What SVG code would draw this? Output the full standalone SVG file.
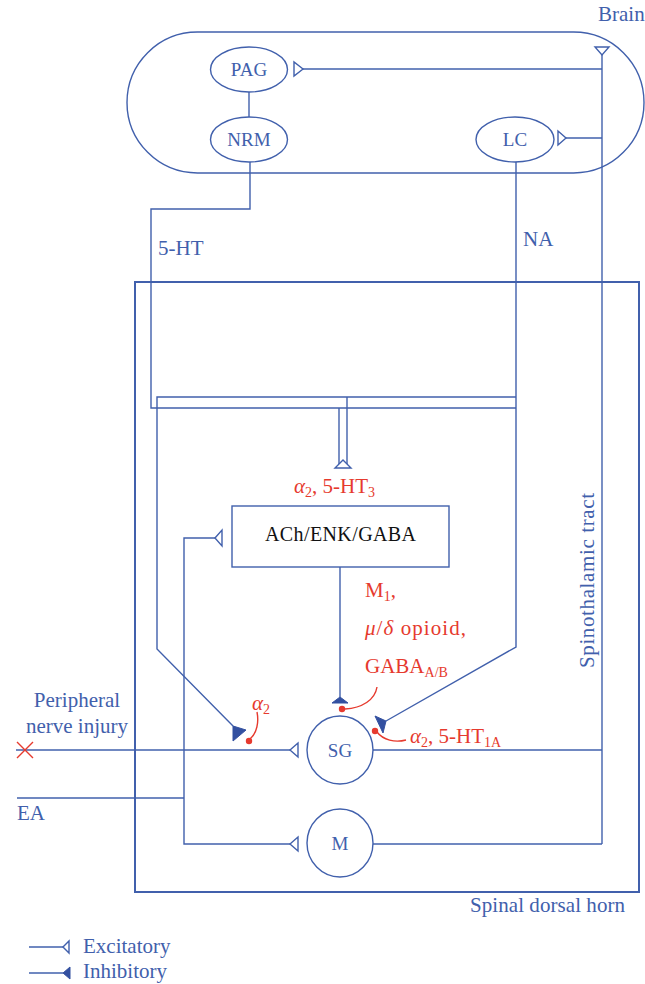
<svg xmlns="http://www.w3.org/2000/svg" width="645" height="984" viewBox="0 0 645 984">
<style>
.ln{fill:none;stroke:#4160AC;stroke-width:1.4}
.frame{fill:none;stroke:#4160AC;stroke-width:2}
.node{fill:#fff;stroke:#4160AC;stroke-width:1.4}
.ex{fill:#fff;stroke:#4160AC;stroke-width:1.4;stroke-linejoin:miter}
.inh{fill:#3350A0;stroke:#3350A0;stroke-width:1}
text{font-family:'Liberation Serif','DejaVu Serif',serif}
.t{font-size:21px;fill:#4160AC}
.tn{font-size:19px;fill:#4160AC;text-anchor:middle}
.tb{font-size:20px;fill:#111}
.tr{font-size:21px;fill:#E63A2E}
.red{fill:none;stroke:#E63A2E;stroke-width:1.4}
.dot{fill:#E63A2E}
</style>
<rect width="645" height="984" fill="#fff"/>

<g id="brain">
<rect x="127" y="32" width="517" height="141" rx="70.5" ry="70.5" class="ln"/>
<text x="598" y="21" class="t">Brain</text>
</g>
<g id="spinal-dorsal-horn">
<rect x="135" y="282" width="504" height="610" class="frame"/>
<text x="470" y="912" class="t" textLength="155">Spinal dorsal horn</text>
</g>

<g id="connectors">
<line x1="249" y1="92" x2="249" y2="117" class="ln"/>
<line x1="602" y1="47" x2="602" y2="844" class="ln"/>
<polygon points="595,47 609,47 602,55" class="ex"/>
<line x1="303" y1="69" x2="602" y2="69" class="ln"/>
<polygon points="294,62 294,76 303,69" class="ex"/>
<line x1="566" y1="138" x2="602" y2="138" class="ln"/>
<polygon points="558,131 558,145 566,138" class="ex"/>
<polyline points="250,161 250,209 151,209 151,408 516,408" class="ln"/>
<polyline points="516,160 516,647 386,721" class="ln"/>
<polygon points="386,721 375,716 383,733" class="inh"/>
<polyline points="516,397 157,397 157,649 233,726" class="ln"/>
<polygon points="233,726 246,730 233,741" class="inh"/>
<line x1="347" y1="397" x2="347" y2="465" class="ln"/>
<line x1="339" y1="408" x2="339" y2="465" class="ln"/>
<polygon points="343,460 335,468 351,468" class="ex"/>
<line x1="340" y1="567" x2="340" y2="697" class="ln"/>
<polygon points="340,697 332,703 348,703" class="inh"/>
<line x1="16" y1="750" x2="290" y2="750" class="ln"/>
<polygon points="290,750 298,743 298,757" class="ex"/>
<line x1="17" y1="798" x2="184" y2="798" class="ln"/>
<polyline points="215,538 184,538 184,844 290,844" class="ln"/>
<polygon points="215,538 222,530 222,546" class="ex"/>
<polygon points="290,844 298,837 298,851" class="ex"/>
<line x1="373" y1="750" x2="602" y2="750" class="ln"/>
<line x1="373" y1="844" x2="602" y2="844" class="ln"/>
<path d="M377,687 C375,700 362,708 345,709" class="red"/>
<circle cx="342" cy="709" r="3.2" class="dot"/>
<path d="M377,732 C383,740 395,743 406,740" class="red"/>
<circle cx="375" cy="731" r="3.2" class="dot"/>
<path d="M250,739 C257,733 259,722 257,712" class="red"/>
<circle cx="249" cy="741" r="3.2" class="dot"/>
<path d="M17,742 L33,758 M33,742 L17,758" class="red"/>
</g>

<g id="PAG">
<ellipse cx="249" cy="69.5" rx="38.5" ry="22.5" class="node"/>
<text x="249" y="76" class="tn">PAG</text>
</g>
<g id="NRM">
<ellipse cx="249" cy="139.5" rx="38.5" ry="22.5" class="node"/>
<text x="249" y="146" class="tn">NRM</text>
</g>
<g id="LC">
<ellipse cx="515" cy="139.5" rx="39" ry="22.5" class="node"/>
<text x="515" y="146" class="tn">LC</text>
</g>
<g id="ACh-ENK-GABA">
<rect x="232" y="506" width="217" height="61" class="node"/>
<text x="340.5" y="541" class="tb" text-anchor="middle" textLength="151">ACh/ENK/GABA</text>
</g>
<g id="SG">
<ellipse cx="340" cy="750" rx="33" ry="34" class="node"/>
<text x="340" y="757" class="tn">SG</text>
</g>
<g id="M">
<ellipse cx="340" cy="843" rx="33" ry="34" class="node"/>
<text x="340" y="850" class="tn">M</text>
</g>

<g id="labels">
<text x="158" y="255" class="t">5-HT</text>
<text x="523" y="246" class="t">NA</text>
<text x="77" y="707" class="t" text-anchor="middle">Peripheral</text>
<text x="77" y="733" class="t" text-anchor="middle">nerve injury</text>
<text x="17" y="820" class="t">EA</text>
<text transform="translate(594,668) rotate(-90)" class="t" textLength="175">Spinothalamic tract</text>
<text x="294" y="493" class="tr"><tspan font-style="italic">α</tspan><tspan font-size="14" dy="4">2</tspan><tspan dy="-4">, 5-HT</tspan><tspan font-size="14" dy="4">3</tspan></text>
<text x="365" y="597" class="tr">M<tspan font-size="14" dy="4">1</tspan><tspan dy="-4">,</tspan></text>
<text x="365" y="635" class="tr" textLength="101"><tspan font-style="italic">μ</tspan>/<tspan font-style="italic">δ</tspan> opioid,</text>
<text x="365" y="673" class="tr">GABA<tspan font-size="14" dy="4">A/B</tspan></text>
<text x="410" y="743" class="tr"><tspan font-style="italic">α</tspan><tspan font-size="14" dy="4">2</tspan><tspan dy="-4">, 5-HT</tspan><tspan font-size="14" dy="4">1A</tspan></text>
<text x="252" y="710" class="tr"><tspan font-style="italic">α</tspan><tspan font-size="14" dy="4">2</tspan></text>
</g>

<g id="legend">
<line x1="29" y1="947" x2="63" y2="947" class="ln"/>
<polygon points="63,947 69,941 69,953" class="ex"/>
<text x="83" y="953" class="t">Excitatory</text>
<line x1="29" y1="973" x2="63" y2="973" class="ln"/>
<polygon points="63,973 70,967 70,979" class="inh"/>
<text x="83" y="978" class="t">Inhibitory</text>
</g>
</svg>
